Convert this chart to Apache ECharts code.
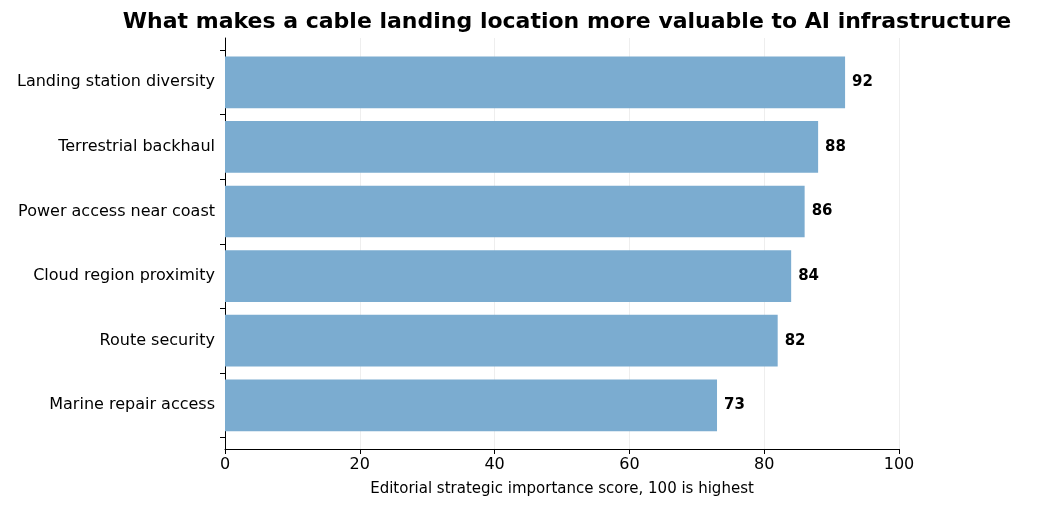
<!DOCTYPE html><html><head><meta charset="utf-8"><script src="https://cdn.jsdelivr.net/npm/echarts@6/dist/echarts.min.js"></script></head><body style="margin:0"><div id="c" style="width:1050px;height:510px"></div><script>
const categories=["Landing station diversity","Terrestrial backhaul","Power access near coast","Cloud region proximity","Route security","Marine repair access"];
const scores=[92,88,86,84,82,73];
const xTicks=[0,20,40,60,80,100];
const f='DejaVu Sans';
const ch=echarts.init(document.getElementById('c'));
ch.setOption({animation:false,
title:{text:'What makes a cable landing location more valuable to AI infrastructure',left:562,top:6,textAlign:'center',textStyle:{fontFamily:f,fontSize:22,fontWeight:'bold',color:'#000'}},
grid:[{left:225,right:151,top:38,bottom:61},{left:225,right:151,top:50,height:387.6}],
xAxis:[{gridIndex:0,type:'value',min:0,max:100,interval:20,axisLine:{show:true,lineStyle:{color:'#000'}},axisTick:{show:true,length:5,lineStyle:{color:'#000'}},axisLabel:{fontFamily:f,fontSize:16,color:'#000',margin:8},splitLine:{show:true,lineStyle:{color:'#eeeeee'}},name:'Editorial strategic importance score, 100 is highest',nameLocation:'middle',nameGap:33,nameTextStyle:{fontFamily:f,fontSize:15,color:'#000'}},
{gridIndex:1,type:'value',min:0,max:100,show:false}],
yAxis:[{gridIndex:0,type:'value',min:0,max:1,axisLine:{show:true,lineStyle:{color:'#000'}},axisTick:{show:false},axisLabel:{show:false},splitLine:{show:false}},
{gridIndex:1,type:'category',inverse:true,data:categories,axisLine:{show:false},axisTick:{show:true,length:5,lineStyle:{color:'#000'}},axisLabel:{fontFamily:f,fontSize:16,color:'#000',margin:10}}],
series:[{type:'bar',xAxisIndex:1,yAxisIndex:1,data:scores,barWidth:'80%',itemStyle:{color:'#7bacd0'},label:{show:true,position:'right',distance:7,fontFamily:f,fontSize:15,fontWeight:'bold',color:'#000'}}]});
</script></body></html>
